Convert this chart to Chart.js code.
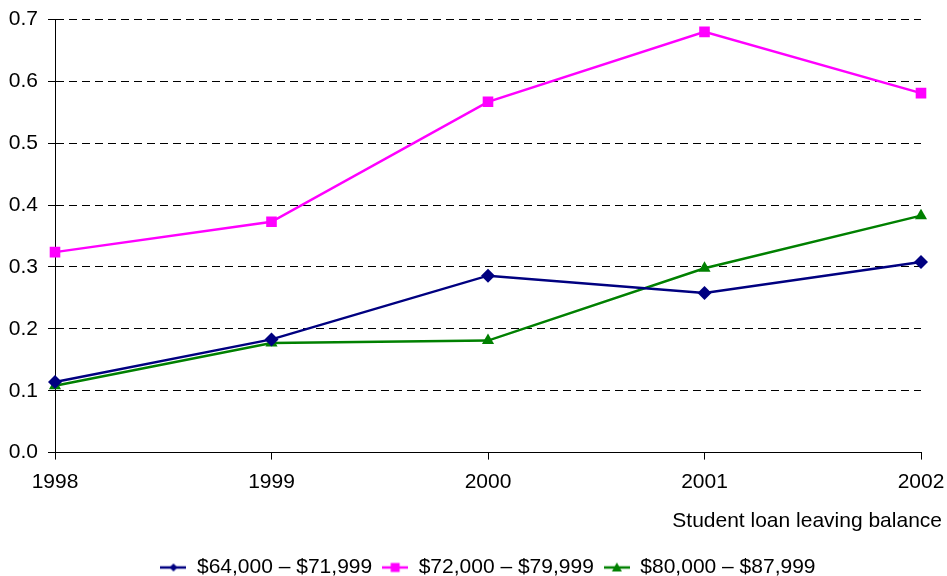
<!DOCTYPE html>
<html>
<head>
<meta charset="utf-8">
<script src="https://cdn.jsdelivr.net/npm/chart.js@4"></script>
<style>
    html, body { margin: 0; padding: 0; background: #fff; }
    canvas { display: block; }
</style>
</head>
<body>
<canvas id="chart" width="947" height="576"></canvas>
<script>
// Chart data
const years = ['1998', '1999', '2000', '2001', '2002'];
const band64 = [0.114, 0.183, 0.286, 0.258, 0.308];
const band72 = [0.324, 0.373, 0.567, 0.680, 0.581];
const band80 = [0.108, 0.177, 0.181, 0.298, 0.383];
const seriesNames = ['$64,000 \u2013 $71,999', '$72,000 \u2013 $79,999', '$80,000 \u2013 $87,999'];
const xTitle = 'Student loan leaving balance';

const FONT = "'Liberation Sans', Arial, sans-serif";

// Legend symbol: short line with the marker in the middle
function legendSymbol(color, style) {
    const c = document.createElement('canvas');
    c.width = 26;
    c.height = 14;
    const ctx = c.getContext('2d');
    ctx.strokeStyle = color;
    ctx.fillStyle = color;
    ctx.lineWidth = 2.5;
    ctx.beginPath();
    ctx.moveTo(0, 7);
    ctx.lineTo(26, 7);
    ctx.stroke();
    ctx.beginPath();
    if (style === 'rectRot') {
        ctx.moveTo(13, 3); ctx.lineTo(17, 7); ctx.lineTo(13, 11); ctx.lineTo(9, 7);
    } else if (style === 'rect') {
        ctx.rect(8.5, 2.5, 9, 9);
    } else {
        ctx.moveTo(13, 2); ctx.lineTo(18, 11); ctx.lineTo(8, 11);
    }
    ctx.closePath();
    ctx.fill();
    return c;
}

// X axis title drawn at the right end, past the last tick like the original
const axisTitlePlugin = {
    id: 'axisTitle',
    afterDraw: (chart) => {
        const { ctx, chartArea } = chart;
        ctx.save();
        ctx.font = '21px ' + FONT;
        ctx.fillStyle = '#000';
        ctx.textAlign = 'right';
        ctx.textBaseline = 'middle';
        ctx.fillText(xTitle, chartArea.right + 21, 521);
        ctx.restore();
    }
};

const styles = [
    { color: '#000080', point: 'rectRot', radius: 7 },
    { color: '#FF00FF', point: 'rect', radius: 7.5 },
    { color: '#008000', point: 'triangle', radius: 7 }
];

const datasets = [band64, band72, band80].map((values, i) => ({
    label: seriesNames[i],
    data: values,
    borderColor: styles[i].color,
    backgroundColor: styles[i].color,
    pointBackgroundColor: styles[i].color,
    pointBorderColor: styles[i].color,
    pointBorderWidth: 0,
    pointStyle: styles[i].point,
    pointRadius: styles[i].radius,
    borderWidth: 2.5,
    tension: 0
}));

new Chart(document.getElementById('chart'), {
    type: 'line',
    plugins: [axisTitlePlugin],
    data: { labels: years, datasets: datasets },
    options: {
        responsive: false,
        animation: false,
        layout: { padding: { top: 19.5, right: 26, left: 0, bottom: -12 } },
        plugins: {
            tooltip: { enabled: false },
            legend: {
                position: 'bottom',
                fullSize: false,
                labels: {
                    color: '#000',
                    font: { family: FONT, size: 21 },
                    usePointStyle: true,
                    pointStyleWidth: 26,
                    padding: 10,
                    generateLabels: (chart) => chart.data.datasets.map((ds, i) => ({
                        text: ds.label,
                        pointStyle: legendSymbol(styles[i].color, styles[i].point),
                        fillStyle: styles[i].color,
                        strokeStyle: styles[i].color,
                        lineWidth: 0,
                        fontColor: '#000',
                        hidden: false,
                        datasetIndex: i
                    }))
                }
            }
        },
        scales: {
            x: {
                offset: false,
                afterFit: (scale) => {
                    scale.height = 94.4;
                    scale.paddingLeft = 0;
                    scale.paddingRight = 0;
                },
                grid: {
                    drawOnChartArea: false,
                    color: '#000',
                    tickLength: 7,
                    tickBorderDash: []
                },
                border: { color: '#000', width: 1 },
                ticks: {
                    color: '#000',
                    padding: 10,
                    maxRotation: 0,
                    font: { family: FONT, size: 21 }
                }
            },
            y: {
                min: 0,
                max: 0.7,
                afterFit: (scale) => {
                    scale.width = 55;
                    scale.paddingTop = 0;
                },
                grid: {
                    color: '#000',
                    lineWidth: 1,
                    tickLength: 7,
                    tickBorderDash: []
                },
                border: { color: '#000', width: 1, dash: [8, 5] },
                ticks: {
                    stepSize: 0.1,
                    color: '#000',
                    padding: 10,
                    font: { family: FONT, size: 21 },
                    callback: (v) => v.toFixed(1)
                }
            }
        }
    }
});
</script>
</body>
</html>
